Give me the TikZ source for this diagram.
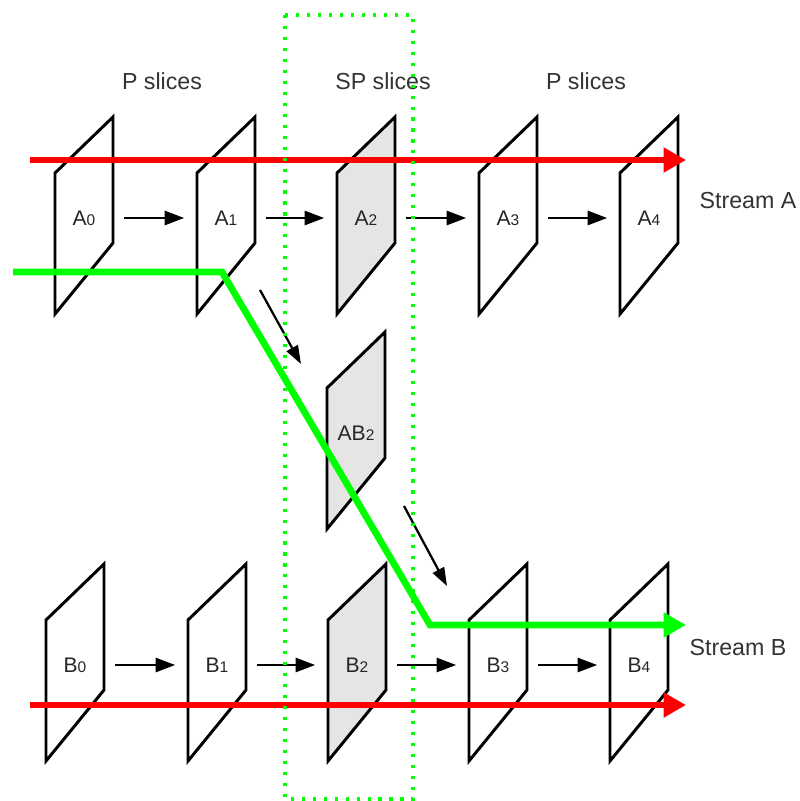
\documentclass[tikz,border=0pt]{standalone}
\usepackage{fontspec}
\setmainfont{Liberation Sans}
\usetikzlibrary{arrows.meta,backgrounds}
\newcommand{\slicenum}[1]{{\fontsize{11}{11}\selectfont #1}}

\begin{document}
\begin{tikzpicture}[x=0.025cm,y=-0.025cm]
        \tikzstyle{slice}=[minimum width=41pt,inner sep=0pt,text=black!85,font=\fontsize{15}{15}\selectfont]
        \tikzstyle{plane}=[draw=black,line width=2.1pt,fill=white]
        \tikzstyle{spplane}=[plane,fill=black!10]
        \tikzstyle{flow}=[draw=black,line width=2pt,-{Triangle[length=14pt,width=10pt]},shorten <=8pt,shorten >=9pt]
        \tikzstyle{hop}=[draw=black,line width=1.6pt,-{Triangle[length=13pt,width=9pt]}]
        \tikzstyle{stream}=[line width=4.8pt,-{Triangle[length=16pt,width=17pt]}]
        \tikzstyle{title}=[text=black!80,font=\fontsize{16.5}{16.5}\selectfont]
        \tikzstyle{spbox}=[draw=green,line width=2.2pt,dash pattern=on 2.2pt off 5.6pt]

        \useasboundingbox (0,0) rectangle (800,801);

       \begin{scope}

         \node [title] (tp0) at (162,81) {P slices};
         \node [title] (tsp) at (383,81) {SP slices};
         \node [title] (tp1) at (586,81) {P slices};

         \node [slice] (a0) at (84,218) {A\slicenum{0}};
         \node [slice] (a1) at (226,218) {A\slicenum{1}};
         \node [slice] (a2) at (366,218) {A\slicenum{2}};
         \node [slice] (a3) at (508,218) {A\slicenum{3}};
         \node [slice] (a4) at (649,218) {A\slicenum{4}};

         \node [slice] (ab2) at (356,433) {AB\slicenum{2}};

         \node [slice] (b0) at (75,665) {B\slicenum{0}};
         \node [slice] (b1) at (217,665) {B\slicenum{1}};
         \node [slice] (b2) at (357,665) {B\slicenum{2}};
         \node [slice] (b3) at (498,665) {B\slicenum{3}};
         \node [slice] (b4) at (639,665) {B\slicenum{4}};

         \node [title] (sa) at (748,201) {Stream A};
         \node [title] (sb) at (738,648) {Stream B};

         % slice planes behind the labels
         \begin{scope}[on background layer]
           \foreach \n in {a0,a1,a3,a4,b0,b1,b3,b4}
             \filldraw[plane,shift={(\n)}] (-29,-45) -- (29,-101) -- (29,25) -- (-29,96) -- cycle;
           \foreach \n in {a2,ab2,b2}
             \filldraw[spplane,shift={(\n)}] (-29,-45) -- (29,-101) -- (29,25) -- (-29,96) -- cycle;
         \end{scope}

 		\path[flow] (a0) edge (a1) (a1) edge (a2) (a2) edge (a3) (a3) edge (a4);
 		\path[flow] (b0) edge (b1) (b1) edge (b2) (b2) edge (b3) (b3) edge (b4);

         \coordinate (d0) at (260,290);
         \coordinate (d1) at (301,364);
         \coordinate (d2) at (404,506);
         \coordinate (d3) at (447,586);
 		\draw[hop] (d0) -- (d1);
 		\draw[hop] (d2) -- (d3);

         % streams
         \coordinate (ra0) at (30,160);
         \coordinate (ra1) at (686,160);
         \coordinate (rb0) at (30,705);
         \coordinate (rb1) at (686,705);
         \coordinate (g0) at (13,272);
         \coordinate (g1) at (222,272);
         \coordinate (g2) at (430,625);
         \coordinate (g3) at (686,625);
 		\draw[stream,red] (ra0) -- (ra1);
 		\draw[stream,red] (rb0) -- (rb1);
 		\draw[stream,green] (g0) -- (g1) -- (g2) -- (g3);

         \draw[spbox] (285,15) rectangle (413,799);

        \end{scope}
      \end{tikzpicture}
\end{document}
